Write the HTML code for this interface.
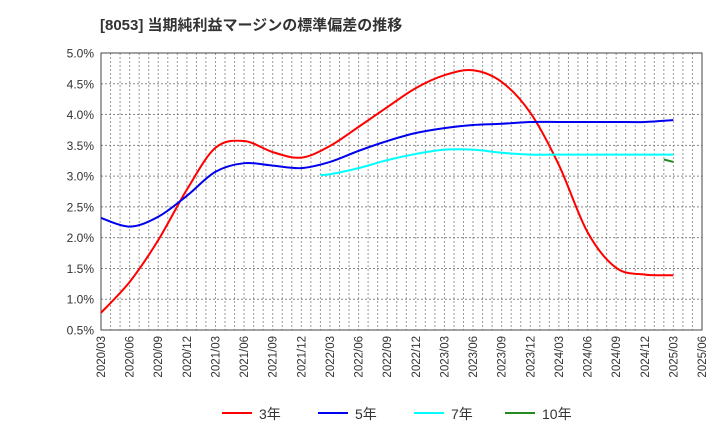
<!DOCTYPE html>
<html><head><meta charset="utf-8"><style>
body{margin:0;background:#fff;}
svg text{font-family:"Liberation Sans","Noto Sans CJK JP",sans-serif;}
</style></head><body>
<svg id="c" width="720" height="440" xmlns="http://www.w3.org/2000/svg">
<text x="100" y="30" font-size="15" font-weight="bold" fill="#333">[8053]  当期純利益マージンの標準偏差の推移</text>
<g id="grid"></g><g id="axes"></g><g id="series"></g><g id="legend"></g>
</svg>
<script>
const yTicks=[0.5,1.0,1.5,2.0,2.5,3.0,3.5,4.0,4.5,5.0];
const xTickLabels=["2020/03","2020/06","2020/09","2020/12","2021/03","2021/06","2021/09","2021/12","2022/03","2022/06","2022/09","2022/12","2023/03","2023/06","2023/09","2023/12","2024/03","2024/06","2024/09","2024/12","2025/03","2025/06"];
const s3Months=[0,3,6,9,12,15,18,21,24,27,30,33,36,39,42,45,48,51,54,57,60];
const s3Values=[0.78,1.28,1.96,2.78,3.46,3.57,3.39,3.30,3.49,3.80,4.12,4.43,4.64,4.72,4.53,4.03,3.18,2.09,1.51,1.40,1.39];
const s5Months=[0,3,6,9,12,15,18,21,24,27,30,33,36,39,42,45,48,51,54,57,60];
const s5Values=[2.32,2.18,2.34,2.68,3.07,3.21,3.17,3.13,3.23,3.41,3.57,3.70,3.78,3.83,3.85,3.88,3.88,3.88,3.88,3.88,3.91];
const s7Months=[23,24,27,30,33,36,39,42,45,48,51,54,57,60];
const s7Values=[3.02,3.03,3.13,3.26,3.36,3.43,3.43,3.38,3.35,3.35,3.35,3.35,3.35,3.35];
const s10Months=[59,60];
const s10Values=[3.27,3.23];
const NS="http://www.w3.org/2000/svg";
const L=101,R=702,T=53,B=330;
const xs=m=>L+(R-L)*m/63;
const ys=v=>B-(B-T)*(v-0.5)/4.5;
function mk(tag,attrs,parent){const e=document.createElementNS(NS,tag);for(const k in attrs)e.setAttribute(k,attrs[k]);document.getElementById(parent).appendChild(e);return e;}
for(let m=1;m<63;m++){const g=mk('line',{x1:xs(m),x2:xs(m),y1:T,y2:B,stroke:'#999','stroke-dasharray':'2,2','stroke-width':1},'grid');

}
yTicks.forEach(v=>{if(v>0.5&&v<5){const g=mk('line',{x1:L,x2:R,y1:ys(v),y2:ys(v),stroke:'#888','stroke-dasharray':'2,2','stroke-width':1},'grid');

}
const t=mk('text',{x:L-7,y:ys(v)+4.5,'text-anchor':'end','font-size':12,fill:'#333'},'axes');t.textContent=v.toFixed(1)+'%';

});
const fr=mk('rect',{x:L,y:T,width:R-L,height:B-T,fill:'none',stroke:'#444','stroke-width':1},'axes');


xTickLabels.forEach((lb,i)=>{const x=xs(i*3);const t=mk('text',{x:0,y:0,transform:`translate(${x+4},${B+6}) rotate(-90)`,'text-anchor':'end','font-size':11.5,fill:'#333'},'axes');t.textContent=lb;

});
function path(ms,vs){const p=ms.map((m,i)=>[xs(m),ys(vs[i])]);if(p.length<3)return 'M'+p.map(q=>q.join(',')).join('L');
let d='M'+p[0].join(',');for(let i=0;i<p.length-1;i++){const p0=p[i-1]||p[i],p1=p[i],p2=p[i+1],p3=p[i+2]||p[i+1];
const c1=[p1[0]+(p2[0]-p0[0])/6,p1[1]+(p2[1]-p0[1])/6],c2=[p2[0]-(p3[0]-p1[0])/6,p2[1]-(p3[1]-p1[1])/6];
d+=`C${c1} ${c2} ${p2}`;}return d;}
const series=[[s3Months,s3Values,'#ff0000','series-3yr'],[s5Months,s5Values,'#0000ee','series-5yr'],[s7Months,s7Values,'#00ffff','series-7yr'],[s10Months,s10Values,'#228b22','series-10yr']];
series.forEach(s=>{const e=mk('path',{d:path(s[0],s[1]),fill:'none',stroke:s[2],'stroke-width':2},'series');

});
const leg=[['3年','#ff0000',222],['5年','#0000ee',318],['7年','#00ffff',414],['10年','#228b22',505]];
leg.forEach(l=>{const ln=mk('line',{x1:l[2],x2:l[2]+30,y1:413,y2:413,stroke:l[1],'stroke-width':2},'legend');


const t=mk('text',{x:l[2]+37,y:419,'font-size':14,fill:'#333'},'legend');t.textContent=l[0];

});
</script>
</body></html>
